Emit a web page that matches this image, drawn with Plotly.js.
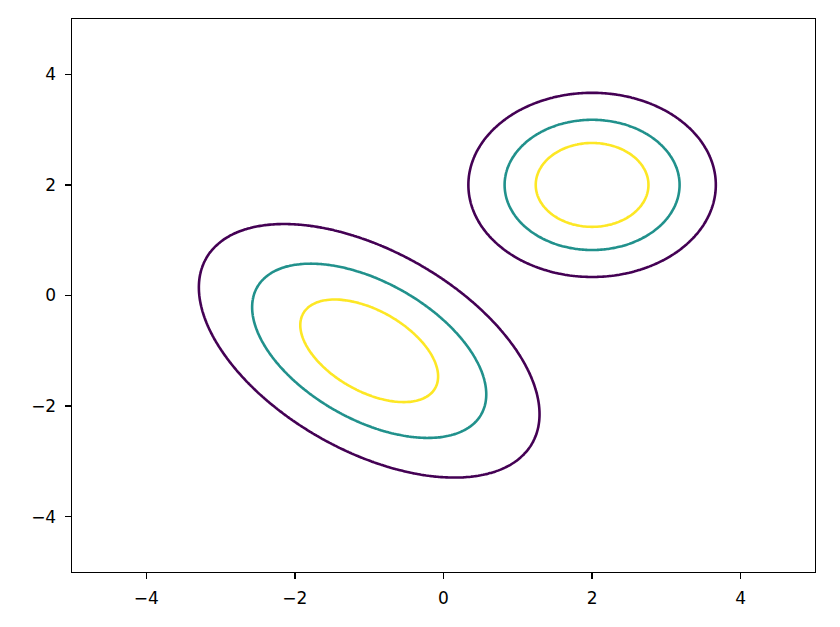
<!DOCTYPE html>
<html>
<head>
<meta charset="utf-8">
<script src="https://cdn.plot.ly/plotly-3.0.1.min.js"></script>
<style>html,body{margin:0;padding:0;background:#fff;}</style>
</head>
<body>
<div id="chart" style="width:840px;height:627px;"></div>
<script>
// Two Gaussian bumps: centres, covariances, amplitudes
const means = [[2, 2], [-1, -1]];
const covs = [[[1, 0], [0, 1]], [[2, -1], [-1, 2]]];
const amps = [1.0, 0.93];
// Contour levels and their colours (viridis ends + middle)
const levels = [0.25, 0.5, 0.75];
const levelColors = ['#440154', '#21918c', '#fde725'];
const xRange = [-5, 5];
const yRange = [-5, 5];
const tickVals = [-4, -2, 0, 2, 4];
const nGrid = 301;

const xs = [], ys = [];
for (let i = 0; i < nGrid; i++) {
  xs.push(xRange[0] + (xRange[1] - xRange[0]) * i / (nGrid - 1));
  ys.push(yRange[0] + (yRange[1] - yRange[0]) * i / (nGrid - 1));
}
function bump(x, y, k) {
  const c = covs[k];
  const det = c[0][0] * c[1][1] - c[0][1] * c[1][0];
  const ia = c[1][1] / det, ib = -c[0][1] / det, id = c[0][0] / det;
  const u = x - means[k][0], v = y - means[k][1];
  const q = ia * u * u + 2 * ib * u * v + id * v * v;
  return amps[k] * Math.exp(-q / 2);
}

const traces = [];
means.forEach((m, k) => {
  const z = ys.map(y => xs.map(x => bump(x, y, k)));
  levels.forEach((lv, i) => {
    traces.push({
      type: 'contour',
      x: xs, y: ys, z: z,
      autocontour: false,
      contours: {start: lv, end: lv, size: 0.1, coloring: 'none', showlabels: false},
      line: {color: levelColors[i], width: 2.6, smoothing: 1},
      showscale: false,
      hoverinfo: 'skip'
    });
  });
});

const axisCommon = {
  ticks: 'outside',
  ticklen: 6,
  tickwidth: 1.4,
  tickcolor: '#000',
  tickvals: tickVals,
  showline: true,
  linecolor: '#000',
  linewidth: 1.4,
  mirror: true,
  showgrid: false,
  zeroline: false,
  tickfont: {family: 'DejaVu Sans', size: 17, color: '#000'}
};

const layout = {
  width: 840, height: 627,
  margin: {l: 72, r: 25, t: 19, b: 55},
  paper_bgcolor: '#fff', plot_bgcolor: '#fff',
  showlegend: false,
  xaxis: Object.assign({}, axisCommon, {range: xRange, ticklabelstandoff: 4}),
  yaxis: Object.assign({}, axisCommon, {range: yRange, ticklabelstandoff: 5})
};

Plotly.newPlot('chart', traces, layout, {displayModeBar: false, staticPlot: true});
</script>
</body>
</html>
